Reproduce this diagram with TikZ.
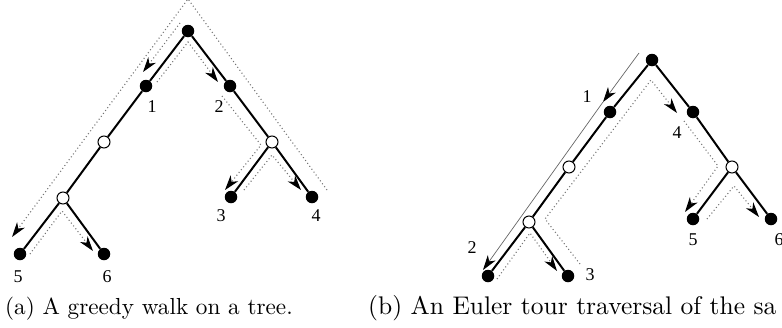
\documentclass[tikz,border=0pt]{standalone}
\usepackage{fontspec}
\newfontfamily\labfont{Liberation Serif}
\usetikzlibrary{arrows.meta}
\tikzset{
  fullnode/.style={circle, fill=black, inner sep=0pt, minimum size=12.5pt},
  hollownode/.style={circle, draw=black, fill=white, line width=1pt, inner sep=0pt, minimum size=12pt},
  treeedge/.style={line width=2pt},
  walkline/.style={draw=black!55, line width=1.1pt, dash pattern=on 1pt off 2.6pt},
  trailline/.style={draw=black!60, line width=0.7pt},
  arrowend/.style={-{Stealth[length=15pt,width=9.5pt,inset=4.5pt,color=black]}},
  numlabel/.style={font=\labfont\fontsize{18}{20}\selectfont, inner sep=0pt},
  captext/.style={anchor=base west, inner sep=0pt},
}
\begin{document}
\begin{tikzpicture}[x=1pt,y=-1pt]
\useasboundingbox (0,0) rectangle (782,327);
\clip (0,0) rectangle (782,327);
% ---------- (a) ----------
\node[fullnode] (ar) at (188,31) {};
\node[fullnode] (a1) at (146,86) {};
\node[fullnode] (a2) at (230,86) {};
\node[hollownode] (ao1) at (104,142) {};
\node[hollownode] (ao3) at (272,142) {};
\node[hollownode] (ao2) at (63,198) {};
\node[fullnode] (a3) at (231,197) {};
\node[fullnode] (a4) at (312,197) {};
\node[fullnode] (a5) at (20,254) {};
\node[fullnode] (a6) at (104,254) {};
\draw[treeedge] (ar) -- (a1) -- (ao1) -- (ao2) -- (a5);
\draw[treeedge] (ao2) -- (a6);
\draw[treeedge] (ar) -- (a2) -- (ao3) -- (a4);
\draw[treeedge] (ao3) -- (a3);
% walk
\draw[walkline,arrowend] (180,23) -- (143,72);
\draw[walkline,arrowend] (157,82) -- (188,42) -- (218,82);
\draw[walkline,arrowend] (222,96) -- (261,145) -- (225,190);
\draw[walkline,arrowend] (244,190) -- (272,155) -- (301,190);
\draw[walkline,arrowend] (327,190) -- (188,-1) -- (12,237);
\draw[walkline,arrowend] (30,254) -- (62,211) -- (93,251);
% labels
\node[numlabel] (la1) at (152,107) {1};
\node[numlabel] (la2) at (219,107) {2};
\node[numlabel] (la3) at (221,216) {3};
\node[numlabel] (la4) at (316,216) {4};
\node[numlabel] (la5) at (18,277) {5};
\node[numlabel] (la6) at (107,277) {6};
% ---------- (b) ----------
\node[fullnode] (br) at (652,60) {};
\node[fullnode] (b1) at (610,112) {};
\node[fullnode] (b2) at (693,112) {};
\node[hollownode] (bo1) at (569,167) {};
\node[hollownode] (bo3) at (732,167) {};
\node[hollownode] (bo2) at (529,222) {};
\node[fullnode] (bl2) at (488,276) {};
\node[fullnode] (bl3) at (568,276) {};
\node[fullnode] (bl5) at (693,219) {};
\node[fullnode] (bl6) at (771,219) {};
\draw[treeedge] (br) -- (b1) -- (bo1) -- (bo2) -- (bl2);
\draw[treeedge] (bo2) -- (bl3);
\draw[treeedge] (br) -- (b2) -- (bo3) -- (bl6);
\draw[treeedge] (bo3) -- (bl5);
% tour
\coordinate (t0) at (639,53);
\coordinate (t1) at (603,102);
\coordinate (t2) at (483,270);
\draw[trailline,arrowend] (t0) -- (t1);
\draw[trailline,arrowend] (t1) -- (t2);
\draw[walkline,arrowend] (497,279) -- (530,233) -- (557,271);
\draw[walkline,arrowend] (580,264) -- (545,219) -- (651,80) -- (677,113);
\draw[walkline,arrowend] (684,121) -- (718,166) -- (685,212);
\draw[walkline,arrowend] (707,219) -- (734,186) -- (759,217);
% labels
\node[numlabel] (lb1) at (587,97) {1};
\node[numlabel] (lb2) at (472,248) {2};
\node[numlabel] (lb3) at (590,275) {3};
\node[numlabel] (lb4) at (677,133) {4};
\node[numlabel] (lb5) at (693,240) {5};
\node[numlabel] (lb6) at (779,240) {6};
% captions
\node[captext] (capa) at (5,314) {\scalebox{2.32}{(a) A greedy walk on a tree.}};
\node[captext] (capb) at (368,314) {\scalebox{2.55}{(b) An Euler tour traversal of the sa}};
\end{tikzpicture}
\end{document}
